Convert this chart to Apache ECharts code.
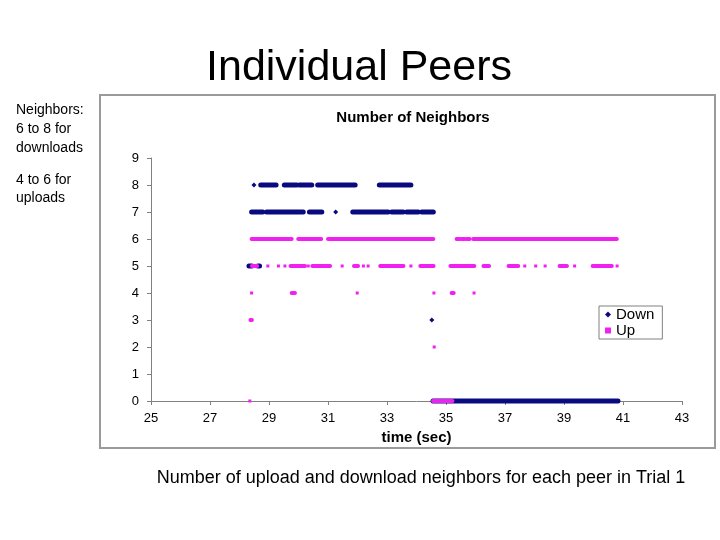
<!DOCTYPE html>
<html>
<head>
<meta charset="utf-8">
<script src="https://cdn.jsdelivr.net/npm/echarts@6/dist/echarts.min.js"></script>
<style>
  html, body { margin: 0; padding: 0; background: #fff; }
  #chart { width: 720px; height: 540px; }
</style>
</head>
<body>
<div id="chart"></div>
<script>
// x tick labels (time, sec) and y levels
const timeTicks = [25, 27, 29, 31, 33, 35, 37, 39, 41, 43];
const neighborLevels = [0, 1, 2, 3, 4, 5, 6, 7, 8, 9];

// runs of samples: [start time, end time] per neighbor count
const down8 = [[28.49, 28.49], [28.72, 29.24], [29.52, 29.94], [30.03, 30.45], [30.65, 31.92], [32.74, 33.81]];
const down7 = [[28.41, 28.79], [28.92, 30.16], [30.37, 30.79], [31.26, 31.26], [31.84, 33.04], [33.16, 33.55], [33.67, 34.06], [34.18, 34.57]];
const down5 = [[28.32, 28.42], [28.62, 28.68]];
const down3 = [[34.52, 34.52]];
const down0 = [[34.56, 40.83]];

const up6 = [[28.41, 29.77], [29.99, 30.77], [31.0, 34.57], [35.36, 35.46], [35.53, 35.62], [35.69, 35.80], [35.92, 40.79]];
const up5 = [[28.42, 28.60], [28.96, 28.96], [29.32, 29.32], [29.54, 29.54], [29.73, 30.22], [30.33, 30.33], [30.47, 31.07],
  [31.48, 31.48], [31.88, 32.02], [32.20, 32.20], [32.36, 32.36], [32.77, 33.56], [33.81, 33.81], [34.13, 34.58],
  [35.15, 35.96], [36.27, 36.46], [37.12, 37.45], [37.67, 37.67], [38.04, 38.04], [38.36, 38.36], [38.85, 39.10],
  [39.36, 39.36], [39.97, 40.62], [40.80, 40.80]];
const up4 = [[28.41, 28.41], [29.77, 29.88], [31.99, 31.99], [34.59, 34.59], [35.19, 35.26], [35.95, 35.95]];
const up3 = [[28.37, 28.42]];
const up2 = [[34.60, 34.60]];
const up0 = [[28.35, 28.35], [34.56, 35.22]];

const downRuns = { 8: down8, 7: down7, 5: down5, 3: down3, 0: down0 };
const upRuns = { 6: up6, 5: up5, 4: up4, 3: up3, 2: up2, 0: up0 };

function toItems(runs) {
    let out = [];
    Object.keys(runs).forEach(function (level) {
        runs[level].forEach(function (r) {
            out.push([r[0], r[1], Number(level)]);
        });
    });
    return out;
}

// draws a run as a bar of beads, a lone sample as a marker
function runRenderer(size, shape) {
    return function (params, api) {
        let p0 = api.coord([api.value(0), api.value(2)]);
        let p1 = api.coord([api.value(1), api.value(2)]);
        let color = api.visual('color');
        let h = size / 2;
        if (p1[0] - p0[0] < 1) {
            if (shape === 'diamond') {
                return {
                    type: 'polygon',
                    shape: { points: [[p0[0], p0[1] - h], [p0[0] + h, p0[1]], [p0[0], p0[1] + h], [p0[0] - h, p0[1]]] },
                    style: { fill: color }
                };
            }
            return {
                type: 'rect',
                shape: { x: p0[0] - h + 0.5, y: p0[1] - h + 0.5, width: size - 1, height: size - 1 },
                style: { fill: color }
            };
        }
        return {
            type: 'rect',
            shape: { x: p0[0] - h, y: p0[1] - h, width: p1[0] - p0[0] + size, height: size, r: h },
            style: { fill: color }
        };
    };
}

const font = 'Liberation Sans, Arial, sans-serif';
let container = echarts.init(document.getElementById('chart'));

let option = {
    backgroundColor: '#ffffff',
    animation: false,
    title: {
        text: 'Number of Neighbors',
        left: 408,
        top: 105,
        textAlign: 'center',
        textStyle: { fontFamily: font, fontSize: 15, fontWeight: 'bold', color: '#000' }
    },
    legend: {
        orient: 'vertical',
        left: 599,
        top: 306,
        padding: [1, 8, 1, 6],
        itemGap: 1,
        itemWidth: 6,
        itemHeight: 6,
        borderColor: '#808080',
        borderWidth: 1,
        textStyle: { fontFamily: font, fontSize: 15, color: '#000' },
        data: [{ name: 'Down', icon: 'diamond' }, { name: 'Up', icon: 'rect' }]
    },
    grid: { left: 151, right: 38, top: 158, bottom: 139 },
    xAxis: {
        type: 'value',
        min: 25,
        max: 43,
        name: 'time (sec)',
        nameLocation: 'middle',
        nameGap: 29,
        nameTextStyle: { fontFamily: font, fontSize: 15, fontWeight: 'bold', color: '#000' },
        axisLine: { lineStyle: { color: '#808080', width: 1 } },
        axisTick: { show: true, length: 4, customValues: timeTicks, lineStyle: { color: '#808080' } },
        axisLabel: { customValues: timeTicks, fontFamily: font, fontSize: 13, color: '#000', margin: 11 },
        splitLine: { show: false }
    },
    yAxis: {
        type: 'value',
        min: 0,
        max: 9,
        axisLine: { show: true, lineStyle: { color: '#808080', width: 1 } },
        axisTick: { show: true, length: 4, customValues: neighborLevels, lineStyle: { color: '#808080' } },
        axisLabel: { customValues: neighborLevels, fontFamily: font, fontSize: 13, color: '#000', margin: 12 },
        splitLine: { show: false }
    },
    series: [{
        name: 'Down',
        type: 'custom',
        renderItem: runRenderer(5, 'diamond'),
        itemStyle: { color: '#0a0a80' },
        encode: { x: [0, 1], y: 2 },
        data: toItems(downRuns),
        z: 2
    }, {
        name: 'Up',
        type: 'custom',
        renderItem: runRenderer(4, 'square'),
        itemStyle: { color: '#F020F0' },
        encode: { x: [0, 1], y: 2 },
        data: toItems(upRuns),
        z: 3
    }],
    graphic: [{
        type: 'rect',
        shape: { x: 100, y: 95, width: 615, height: 353 },
        style: { fill: 'none', stroke: '#9a9a9a', lineWidth: 2 },
        z: -1
    }, {
        type: 'text',
        x: 359, y: 68,
        style: { text: 'Individual Peers', font: '43px ' + font, fill: '#000', textAlign: 'center', textVerticalAlign: 'middle' }
    }, {
        type: 'text',
        x: 421, y: 478,
        style: { text: 'Number of upload and download neighbors for each peer in Trial 1', font: '18px ' + font, fill: '#000', textAlign: 'center', textVerticalAlign: 'middle' }
    }, {
        type: 'text',
        x: 16, y: 101,
        style: { text: 'Neighbors:\n6 to 8 for\ndownloads', font: '14px ' + font, lineHeight: 19, fill: '#000', textVerticalAlign: 'top' }
    }, {
        type: 'text',
        x: 16, y: 171,
        style: { text: '4 to 6 for\nuploads', font: '14px ' + font, lineHeight: 18, fill: '#000', textVerticalAlign: 'top' }
    }]
};

container.setOption(option);
</script>
</body>
</html>
